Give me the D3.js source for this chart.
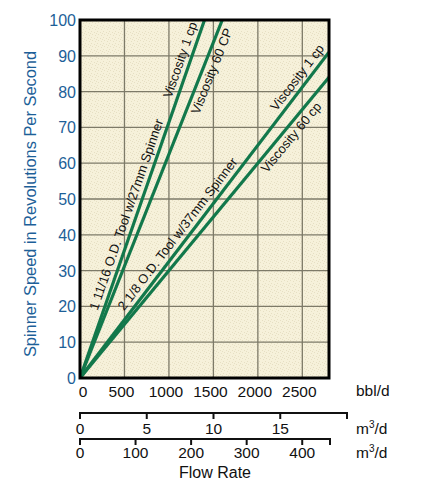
<!DOCTYPE html>
<html>
<head>
<meta charset="utf-8">
<script src="https://cdn.jsdelivr.net/npm/d3@7"></script>
<style>
  html, body { margin: 0; padding: 0; background: #ffffff; }
  svg { display: block; font-family: "Liberation Sans", Arial, Helvetica, sans-serif; }
</style>
</head>
<body>
<svg id="chart" width="422" height="498"></svg>
<script>
// ---------------- DATA ----------------
const yTicks = [0, 10, 20, 30, 40, 50, 60, 70, 80, 90, 100];
const bblTicks = [0, 500, 1000, 1500, 2000, 2500];
const m3hTicks = [0, 5, 10, 15];
const m3dTicks = [0, 100, 200, 300, 400];
const bblDomain = [0, 2800];
const m3hDomain = [0, 20];
const m3dDomain = [0, 450];
const rpsDomain = [0, 100];

const seriesNames = ["1 11/16 Viscosity 1 cp", "1 11/16 Viscosity 60 CP", "2 1/8 Viscosity 1 cp", "2 1/8 Viscosity 60 cp"];
const seriesFlow = [[0, 1400], [0, 1600], [0, 2800], [0, 2800]];   // bbl/d
const seriesSpeed = [[0, 100], [0, 100], [0, 91], [0, 84]];        // rps

const annotTexts = ["1 11/16 O.D. Tool w/27mm Spinner", "Viscosity 1 cp", "Viscosity 60 CP",
                    "2 1/8 O.D. Tool w/37mm Spinner", "Viscosity 1 cp", "Viscosity 60 cp"];
const annotSeries = [0, 0, 1, 2, 2, 3];
const annotAt = [255, 1085, 1198, 545, 2260, 1985];   // bbl/d along the line where text starts

// ---------------- LAYOUT ----------------
const svg = d3.select("#chart");
const L = 80, R = 329, T = 20, B = 378;
const annotOffset = [-5.5, -5.5, 13.5, -5.5, -5.5, 13.5];

const x = d3.scaleLinear().domain(bblDomain).range([L, R]);
const y = d3.scaleLinear().domain(rpsDomain).range([B, T]);
const xm3h = d3.scaleLinear().domain(m3hDomain).range([L, 347]);
const xm3d = d3.scaleLinear().domain(m3dDomain).range([L, 330]);

const blue = "#1d5f98";
const green = "#12784b";

// texture pattern
const defs = svg.append("defs");
const pat = defs.append("pattern").attr("id", "tex").attr("patternUnits", "userSpaceOnUse")
  .attr("width", 6).attr("height", 6);
pat.append("rect").attr("width", 6).attr("height", 6).attr("fill", "#f6f1da");
[[1,1],[4,2],[2,4],[5,5],[0,3]].forEach(p => pat.append("rect").attr("x", p[0]).attr("y", p[1])
  .attr("width", 1).attr("height", 1).attr("fill", "#e6dfc3"));
defs.append("clipPath").attr("id", "clip").append("rect")
  .attr("x", L).attr("y", T).attr("width", R - L).attr("height", B - T);

svg.append("rect").attr("x", L).attr("y", T).attr("width", R - L).attr("height", B - T)
  .attr("fill", "url(#tex)");

// grid
const grid = svg.append("g").attr("stroke", "#7d7a68").attr("stroke-width", 1.3);
grid.selectAll("line.v").data(bblTicks.filter(d => d > 0)).join("line")
  .attr("x1", d => x(d)).attr("x2", d => x(d)).attr("y1", T).attr("y2", B);
grid.selectAll("line.h").data(yTicks.filter(d => d > 0 && d < 100)).join("line")
  .attr("y1", d => y(d)).attr("y2", d => y(d)).attr("x1", L).attr("x2", R);

// lines
const lineGen = d3.line().x(d => x(d[0])).y(d => y(d[1]));
const seriesData = seriesNames.map((n, i) => seriesFlow[i].map((f, j) => [f, seriesSpeed[i][j]]));
svg.append("g").attr("clip-path", "url(#clip)").selectAll("path").data(seriesData).join("path")
  .attr("d", lineGen).attr("fill", "none").attr("stroke", green).attr("stroke-width", 3.2);

// annotations
annotTexts.forEach((t, i) => {
  const s = seriesData[annotSeries[i]];
  const p0 = [x(s[0][0]), y(s[0][1])], p1 = [x(s[1][0]), y(s[1][1])];
  const ang = Math.atan2(p1[1] - p0[1], p1[0] - p0[0]) * 180 / Math.PI;
  const f = annotAt[i];
  const v = s[0][1] + (s[1][1] - s[0][1]) * (f - s[0][0]) / (s[1][0] - s[0][0]);
  svg.append("text")
    .attr("transform", `translate(${x(f)},${y(v)}) rotate(${ang})`)
    .attr("y", annotOffset[i])
    .attr("font-size", 13).attr("fill", "#111")
    .text(t);
});

// border
svg.append("rect").attr("x", L).attr("y", T).attr("width", R - L).attr("height", B - T)
  .attr("fill", "none").attr("stroke", "#000").attr("stroke-width", 3);

// y tick labels
svg.append("g").selectAll("text").data(yTicks).join("text")
  .attr("x", 76).attr("y", d => y(d) + 6).attr("text-anchor", "end")
  .attr("font-size", 16).attr("fill", blue).text(d => d);

// y title
svg.append("text").attr("transform", `translate(36,${(T + B) / 2 + 5}) rotate(-90)`)
  .attr("text-anchor", "middle").attr("font-size", 16.4).attr("fill", blue)
  .text("Spinner Speed in Revolutions Per Second");

// bbl tick labels
svg.append("g").selectAll("text").data(bblTicks).join("text")
  .attr("x", d => d === 0 ? x(d) + 3 : x(d) - 3).attr("y", 397).attr("text-anchor", "middle")
  .attr("font-size", 15.5).attr("fill", "#111").text(d => d);
svg.append("text").attr("x", 356).attr("y", 396).attr("font-size", 15.5).attr("fill", "#111").text("bbl/d");

// lower axes
function lowerAxis(scale, ticks, yLine, yLabel, endVal) {
  const g = svg.append("g");
  g.append("line").attr("x1", scale.range()[0]).attr("x2", scale.range()[1])
    .attr("y1", yLine).attr("y2", yLine).attr("stroke", "#111").attr("stroke-width", 2);
  g.selectAll("line.t").data(ticks.concat([endVal])).join("line")
    .attr("x1", d => scale(d)).attr("x2", d => scale(d))
    .attr("y1", yLine - 1).attr("y2", yLine + 6).attr("stroke", "#111").attr("stroke-width", 2);
  g.selectAll("text").data(ticks).join("text")
    .attr("x", d => scale(d)).attr("y", yLabel).attr("text-anchor", "middle")
    .attr("font-size", 15.5).attr("fill", "#111").text(d => d);
  const u = g.append("text").attr("x", 356).attr("y", yLabel).attr("font-size", 15.5).attr("fill", "#111");
  u.append("tspan").text("m");
  u.append("tspan").attr("dy", -6).attr("font-size", 10).text("3");
  u.append("tspan").attr("dy", 6).text("/d");
}
lowerAxis(xm3h, m3hTicks, 413, 434, m3hDomain[1]);
lowerAxis(xm3d, m3dTicks, 439, 458, m3dDomain[1]);

svg.append("text").attr("x", 215).attr("y", 478).attr("text-anchor", "middle")
  .attr("font-size", 16).attr("fill", "#111").text("Flow Rate");
</script>
</body>
</html>
